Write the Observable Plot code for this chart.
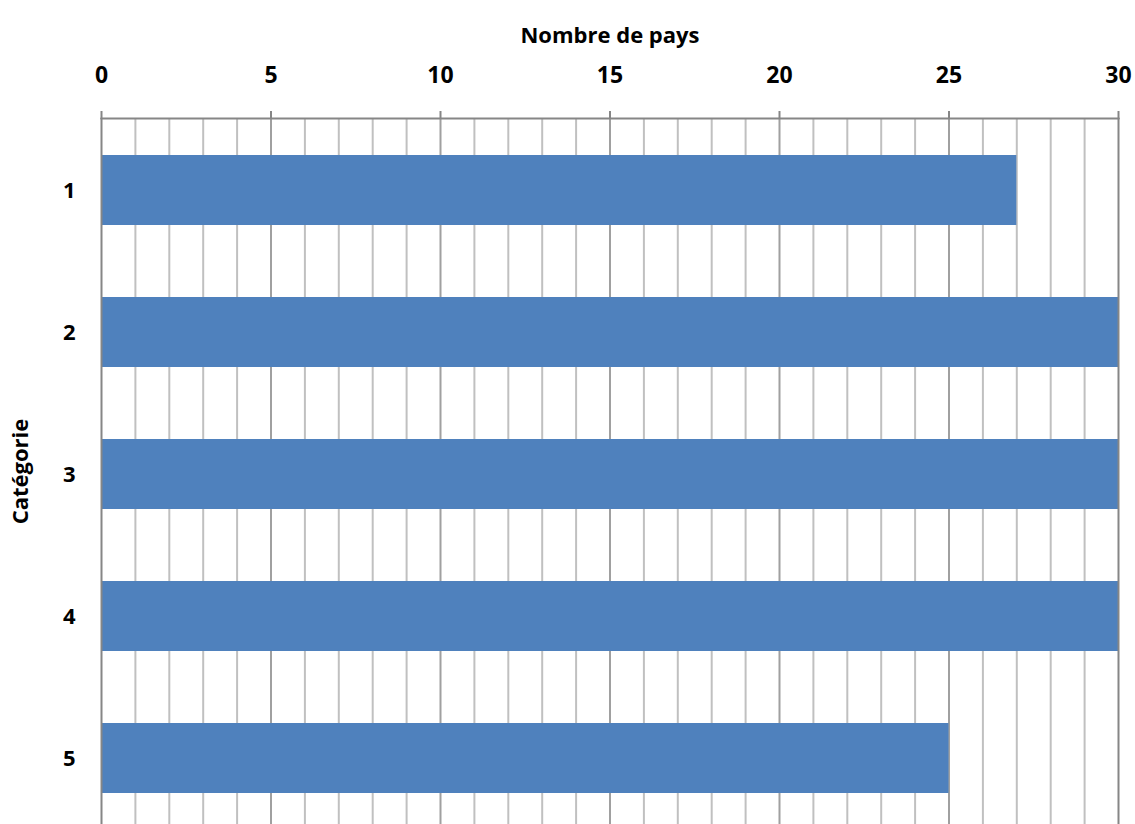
<!DOCTYPE html>
<html>
<head>
<meta charset="utf-8">
<script src="https://cdn.jsdelivr.net/npm/d3@7"></script>
<script src="https://cdn.jsdelivr.net/npm/@observablehq/plot@0.6"></script>
<style>
  html, body { margin: 0; padding: 0; background: #fff; }
  #chart svg { display: block; }
</style>
</head>
<body>
<div id="chart"></div>
<script>
const categories = ["1", "2", "3", "4", "5"];
const values = [27, 30, 30, 30, 25];
const xTicks = [0, 5, 10, 15, 20, 25, 30];
const minorGrid = d3.range(0, 31).filter(v => v % 5 !== 0);
const majorGrid = [5, 10, 15, 20, 25];
const edges = [0, 30];

const data = categories.map((c, i) => ({cat: c, n: values[i]}));
const font = "'Open Sans', sans-serif";

const chart = Plot.plot({
  width: 1135,
  height: 824,
  marginTop: 118,
  marginBottom: 0,
  marginLeft: 101,
  marginRight: 17,
  style: {fontFamily: font, background: "#fff"},
  x: {domain: [0, 30]},
  y: {domain: categories, range: [119, 829], paddingInner: 0.507, paddingOuter: 0.2535},
  marks: [
    Plot.ruleX(minorGrid, {stroke: "#c0c0c0", strokeWidth: 2}),
    Plot.ruleX(majorGrid, {stroke: "#a0a0a0", strokeWidth: 2}),
    Plot.barX(data, {y: "cat", x: "n", fill: "#4F81BD"}),
    Plot.ruleX(edges, {stroke: "#868686", strokeWidth: 2}),
    Plot.frame({anchor: "top", stroke: "#868686", strokeWidth: 2}),
    Plot.axisX({
      anchor: "top", ticks: xTicks, tickSize: 8, tickPadding: 28,
      stroke: "#868686", strokeWidth: 2,
      fontSize: 23, fontWeight: "bold", fill: "#000",
      label: null
    }),
    Plot.text(["Nombre de pays"], {
      frameAnchor: "top", dy: -91, text: d => d,
      fontSize: 22, fontWeight: "bold", fill: "#000"
    }),
    Plot.axisY({
      anchor: "left", tickSize: 0, tickPadding: 26,
      fontSize: 22, fontWeight: "bold", fill: "#000",
      label: "Catégorie", labelAnchor: "center", labelOffset: 89
    })
  ]
});
document.getElementById("chart").appendChild(chart);
</script>
</body>
</html>
